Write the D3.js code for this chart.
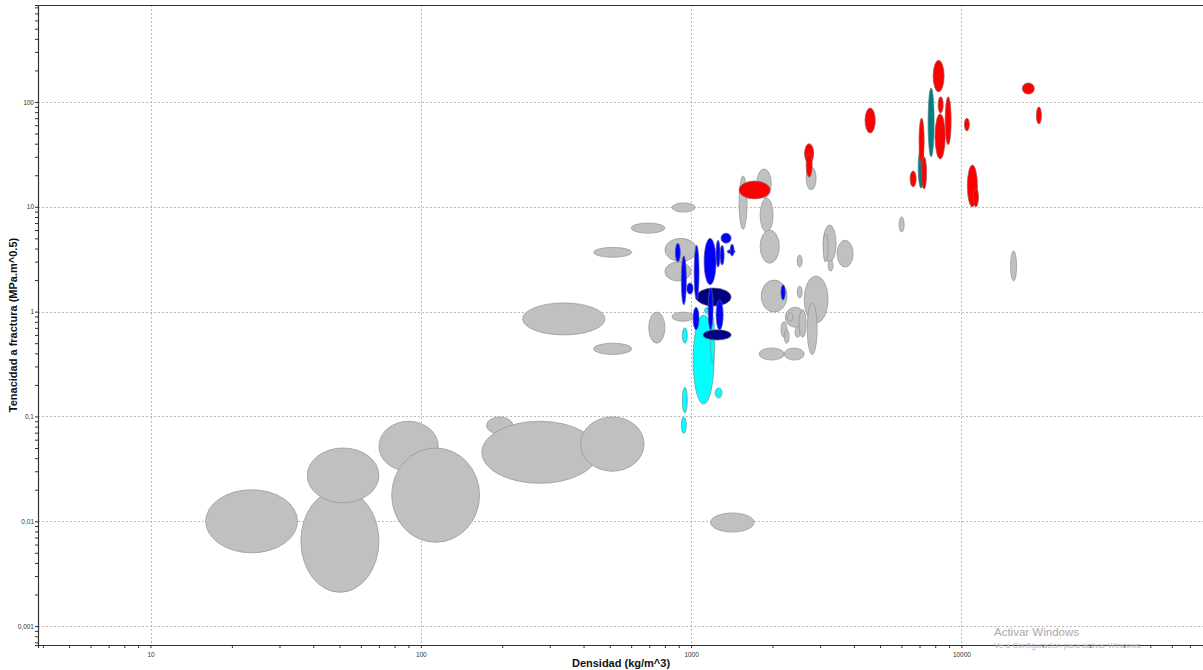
<!DOCTYPE html>
<html>
<head>
<meta charset="utf-8">
<script src="https://cdn.jsdelivr.net/npm/d3@7"></script>
<style>
  body { margin: 0; background: #fff; }
  svg { display: block; }
  text { font-family: "Liberation Sans", Arial, sans-serif; }
</style>
</head>
<body>
<svg id="chart" width="1203" height="670"></svg>
<script>
// Material property ranges: [density min, density max, toughness min, toughness max]
// density in kg/m^3, fracture toughness in MPa.m^0.5
const foamsAndNaturals = [
  [16, 35, 0.005, 0.02],
  [36, 70, 0.0021, 0.02],
  [38, 70, 0.015, 0.05],
  [70, 116, 0.03, 0.09],
  [78, 165, 0.0063, 0.05],
  [175, 219, 0.068, 0.099],
  [168, 452, 0.023, 0.09],
  [390, 670, 0.03, 0.099],
  [1180, 1710, 0.0079, 0.012],
  [850, 1035, 8.9, 10.9],
  [600, 800, 5.6, 7.0],
  [436, 603, 3.3, 4.1],
  [800, 1050, 3.0, 5.0],
  [800, 1000, 1.96, 2.97],
  [238, 480, 0.6, 1.21],
  [697, 800, 0.5, 0.99],
  [436, 603, 0.39, 0.5],
  [850, 1025, 0.81, 0.99],
  [1505, 1610, 6.1, 19.7],
  [1750, 1980, 12.1, 23],
  [1800, 2010, 5.75, 12.1],
  [1800, 2120, 2.9, 6.0],
  [2665, 2900, 14.5, 24],
  [2470, 2575, 2.66, 3.47],
  [3080, 3440, 2.97, 6.7],
  [3080, 3210, 2.97, 5.6],
  [3210, 3350, 2.44, 3.1],
  [3470, 3975, 2.66, 4.8],
  [1815, 2265, 0.99, 2.0],
  [2470, 2575, 1.35, 1.75],
  [2620, 3210, 0.78, 2.19],
  [2230, 2640, 0.71, 1.1],
  [2265, 2385, 0.81, 0.97],
  [2150, 2265, 0.57, 0.8],
  [2210, 2305, 0.5, 0.67],
  [2425, 2530, 0.57, 0.71],
  [2510, 2665, 0.57, 1.04],
  [2690, 2925, 0.39, 1.21],
  [1785, 2210, 0.345, 0.45],
  [2210, 2620, 0.345, 0.45],
  [5880, 6140, 5.75, 8.0],
  [15200, 16000, 1.96, 3.8]
];

const elastomers = [
  [1017, 1216, 0.131, 0.93],
  [1181, 1222, 0.32, 0.89],
  [1122, 1161, 0.96, 1.09],
  [928, 968, 0.5, 0.7],
  [1227, 1302, 0.15, 0.187],
  [928, 968, 0.108, 0.19],
  [920, 960, 0.069, 0.099]
];

const thermosets = [
  [1044, 1406, 1.13, 1.68],
  [1108, 1406, 0.536, 0.67]
];

const thermoplastics = [
  [874, 912, 2.97, 4.5],
  [920, 960, 1.16, 3.4],
  [964, 1017, 1.47, 1.88],
  [1026, 1070, 1.29, 4.3],
  [1117, 1237, 1.8, 5.0],
  [1237, 1280, 2.66, 4.8],
  [1290, 1406, 4.5, 5.6],
  [1280, 1325, 2.78, 4.3],
  [1360, 1455, 3.58, 3.9],
  [1394, 1442, 3.39, 4.4],
  [1156, 1206, 0.67, 1.68],
  [1237, 1314, 0.67, 1.29],
  [1017, 1070, 0.67, 1.1],
  [2150, 2230, 1.29, 1.8]
];

const stainlessSteels = [
  [7530, 7925, 30, 136],
  [6920, 7280, 15.1, 37.2]
];

const metals = [
  [1505, 1960, 11.9, 17.6],
  [2630, 2840, 26, 40],
  [2665, 2805, 19.2, 32.6],
  [7860, 8630, 125, 250],
  [4400, 4800, 50.6, 87.6],
  [8200, 8560, 78.5, 112],
  [8710, 9160, 39, 112],
  [7990, 8710, 28.6, 77],
  [6970, 7280, 26, 70],
  [7125, 7430, 14.8, 30],
  [6460, 6800, 15.5, 22],
  [10260, 10700, 53, 70],
  [16800, 18600, 119, 152],
  [18940, 19770, 61.7, 89.6],
  [10520, 11460, 10, 25],
  [11080, 11560, 10, 15.1]
];

const xTickValues = [10, 100, 1000, 10000];
const xTickLabels = ["10", "100", "1000", "10000"];
const yTickValues = [0.001, 0.01, 0.1, 1, 10, 100];
const yTickLabels = ["0,001", "0,01", "0,1", "1", "10", "100"];

const xTitle = "Densidad (kg/m^3)";
const yTitle = "Tenacidad a fractura (MPa.m^0.5)";

const svg = d3.select("#chart");
const W = 1203, H = 670;
const plot = { left: 38, top: 5, right: 1203, bottom: 645 };

const x = d3.scaleLog().domain([3.835, 78300]).range([plot.left, plot.right]);
const y = d3.scaleLog().domain([0.00066, 842]).range([plot.bottom, plot.top]);

svg.append("rect").attr("width", W).attr("height", H).attr("fill", "#fff");

// decade gridlines
const grid = svg.append("g").attr("stroke", "#a8a8a8").attr("stroke-width", 0.8)
  .attr("stroke-dasharray", "2,2");
grid.selectAll("line.gx").data(xTickValues).join("line")
  .attr("x1", d => Math.round(x(d)) + 0.5).attr("x2", d => Math.round(x(d)) + 0.5)
  .attr("y1", plot.top).attr("y2", plot.bottom);
grid.selectAll("line.gy").data(yTickValues).join("line")
  .attr("y1", d => Math.round(y(d)) + 0.5).attr("y2", d => Math.round(y(d)) + 0.5)
  .attr("x1", plot.left).attr("x2", plot.right);

// material bubbles
function drawGroup(data, fill, stroke) {
  svg.append("g").selectAll("ellipse").data(data).join("ellipse")
    .attr("cx", d => (x(d[0]) + x(d[1])) / 2)
    .attr("cy", d => (y(d[2]) + y(d[3])) / 2)
    .attr("rx", d => Math.abs(x(d[1]) - x(d[0])) / 2)
    .attr("ry", d => Math.abs(y(d[3]) - y(d[2])) / 2)
    .attr("fill", fill)
    .attr("stroke", stroke)
    .attr("stroke-width", 0.7);
}
drawGroup(foamsAndNaturals, "#c0c0c0", "#929292");
drawGroup(elastomers, "#00ffff", "#6f8f8f");
drawGroup(thermosets, "#000080", "#55557a");
drawGroup(thermoplastics, "#0000ff", "#5a5aa0");
drawGroup(stainlessSteels, "#008080", "#4f7f7f");
drawGroup(metals, "#ff0000", "#a05050");

// axes
const xAxis = d3.axisBottom(x)
  .tickValues(d3.range(0, 5).flatMap(e => d3.range(1, 10).map(m => m * Math.pow(10, e))).filter(v => v >= 3.835 && v <= 78300))
  .tickSize(3)
  .tickFormat(d => {
    const i = xTickValues.indexOf(d);
    return i >= 0 ? xTickLabels[i] : "";
  });
const gx = svg.append("g").attr("transform", `translate(0,${plot.bottom})`).call(xAxis);
gx.select(".domain").attr("stroke", "#333").attr("stroke-width", 1.2);
gx.selectAll(".tick line").attr("stroke", "#333");
gx.selectAll(".tick text").attr("font-size", 6.5).attr("fill", "#333").attr("dy", "0.9em")
  .attr("font-family", "Liberation Sans, Arial, sans-serif");

const yAxis = d3.axisLeft(y)
  .tickValues(d3.range(-4, 3).flatMap(e => d3.range(1, 10).map(m => m * Math.pow(10, e))).filter(v => v >= 0.00066 && v <= 842))
  .tickSize(3)
  .tickFormat(d => {
    const i = yTickValues.findIndex(v => Math.abs(v - d) / v < 1e-6);
    return i >= 0 ? yTickLabels[i] : "";
  });
const gy = svg.append("g").attr("transform", `translate(${plot.left},0)`).call(yAxis);
gy.select(".domain").attr("stroke", "#333").attr("stroke-width", 1.2);
gy.selectAll(".tick line").attr("stroke", "#333");
gy.selectAll(".tick text").attr("font-size", 6.5).attr("fill", "#333").attr("x", -4)
  .attr("font-family", "Liberation Sans, Arial, sans-serif");

// top frame line
svg.append("line").attr("x1", plot.left).attr("x2", plot.right)
  .attr("y1", plot.top + 0.5).attr("y2", plot.top + 0.5)
  .attr("stroke", "#333").attr("stroke-width", 1);

// axis titles
svg.append("text").attr("x", 621).attr("y", 667).attr("text-anchor", "middle")
  .attr("font-size", 11).attr("font-weight", "bold").attr("fill", "#111").text(xTitle);
svg.append("text").attr("transform", "translate(17,325) rotate(-90)").attr("text-anchor", "middle")
  .attr("font-size", 11).attr("font-weight", "bold").attr("fill", "#111").text(yTitle);

// system watermark
svg.append("text").attr("x", 994).attr("y", 636).attr("font-size", 11.5)
  .attr("font-family", "Open Sans, sans-serif").attr("fill", "#a9a9a9").text("Activar Windows");
svg.append("text").attr("x", 994).attr("y", 648).attr("font-size", 8)
  .attr("font-family", "Open Sans, sans-serif").attr("fill", "#b4b4b4").text("Ve a Configuración para activar Windows.");
</script>
</body>
</html>
